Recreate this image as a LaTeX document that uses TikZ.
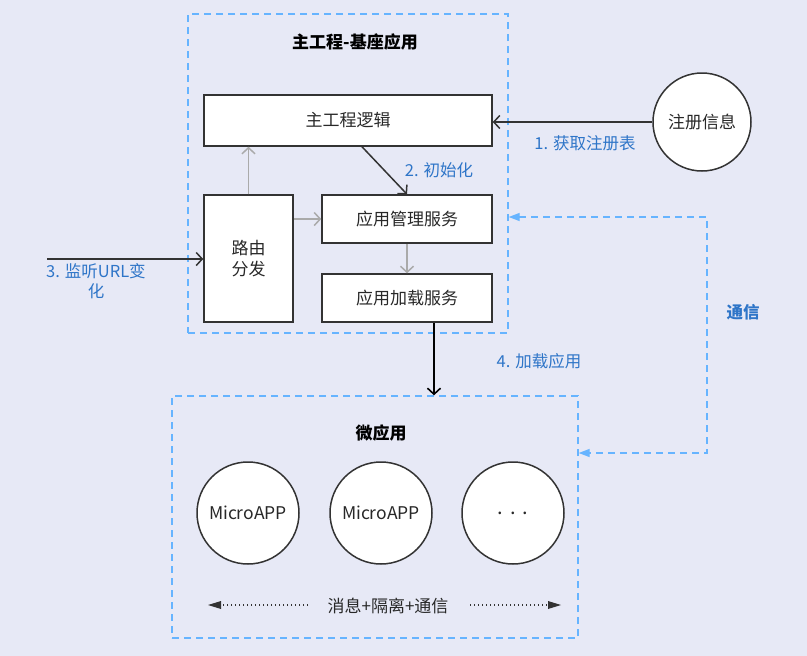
\documentclass[tikz,border=0pt]{standalone}
\usepackage{fontspec}
\setmainfont{Noto Sans CJK SC}
\usetikzlibrary{arrows.meta,calc}
\definecolor{bgcol}{RGB}{231,233,246}
\definecolor{dashblue}{RGB}{102,180,255}
\definecolor{lblblue}{RGB}{46,117,200}
\definecolor{edgecol}{RGB}{51,51,51}
\definecolor{graycol}{RGB}{170,170,170}
\definecolor{txtcol}{RGB}{40,40,40}
\tikzset{
  region/.style={draw=dashblue, line width=1.4pt, dash pattern=on 7pt off 5pt, minimum width=#1},
  procbox/.style={draw=edgecol, fill=white, line width=1.5pt, text=txtcol, font=\fontsize{17}{21}\selectfont},
  appcircle/.style={circle, draw=edgecol, fill=white, line width=1.5pt, text=txtcol, minimum size=102pt, inner sep=0pt, font=\fontsize{17.5}{21}\selectfont},
  steplabel/.style={text=lblblue, font=\fontsize{16.5}{20}\selectfont},
  titlelabel/.style={text=black, font=\fontsize{17}{20}\selectfont\bfseries},
  darkarrow/.style={draw=edgecol, line width=1.5pt, -{Straight Barb[length=6pt,width=13pt,line width=1.5pt]}},
  blackarrow/.style={draw=black, line width=1.6pt, -{Straight Barb[length=6pt,width=13pt,line width=1.6pt]}},
  grayarrow/.style={draw=graycol, line width=1.5pt, -{Straight Barb[length=6pt,width=13pt,line width=1.5pt]}},
  commline/.style={draw=dashblue, line width=1.4pt, dash pattern=on 7pt off 5pt, {Triangle[length=11pt,width=8pt]}-{Triangle[length=11pt,width=8pt]}},
  dotline/.style={draw=edgecol, line width=1.3pt, dash pattern=on 1.3pt off 2.7pt},
}
\begin{document}
\begin{tikzpicture}[x=1pt,y=-1pt]
\fill[bgcol] (0,0) rectangle (807,656);
\useasboundingbox (0,0) rectangle (807,656);

% regions
\node[region=320pt, minimum height=319pt] (main) at (348,173.5) {};
\node[region=406pt, minimum height=242pt] (micro) at (375,517) {};
\node[titlelabel] (maintitle) at (355,42) {主工程-基座应用};
\node[titlelabel] (microtitle) at (381,433) {微应用};

% boxes
\node[procbox, minimum width=288pt, minimum height=51pt] (logic) at (348,120.5) {主工程逻辑};
\node[procbox, minimum width=89pt, minimum height=127pt, align=center] (route) at (248.5,258.5) {路由\\分发};
\node[procbox, minimum width=170pt, minimum height=48pt] (mgr) at (407,219) {应用管理服务};
\node[procbox, minimum width=170pt, minimum height=48pt] (loader) at (407,298) {应用加载服务};

% circles
\node[appcircle, minimum size=98pt, font=\fontsize{17}{21}\selectfont] (reg) at (702,122) {注册信息};
\node[appcircle] (app1) at (248,513) {MicroAPP};
\node[appcircle] (app2) at (381,513) {MicroAPP};
\node[appcircle, font=\fontsize{20}{21}\selectfont] (app3) at (513,513) {.\,\,.\,\,.};

% gray internal arrows
\draw[grayarrow] (route.north) -- (route.north |- logic.south);
\draw[grayarrow] (route.east |- mgr.west) -- (mgr.west);
\draw[grayarrow] (mgr.south) -- (loader.north);

% step 1
\draw[darkarrow] (reg.west) -- (reg.west -| logic.east);
\node[steplabel] (l1) at (585,143) {1. 获取注册表};

% step 2
\coordinate (s2a) at ($(logic.south)+(14,0)$);
\coordinate (s2b) at (mgr.north);
\draw[darkarrow] (s2a) -- (s2b);
\node[steplabel] (l2) at (439,170) {2. 初始化};

% step 3
\coordinate (urlsrc) at (47,259);
\draw[darkarrow] (urlsrc) -- (urlsrc -| route.west);
\node[steplabel, align=center] (l3) at (96,281) {3. 监听URL变\\化};

% step 4
\coordinate (s4a) at ($(loader.south)+(27,0)$);
\draw[blackarrow] (s4a) -- (s4a |- micro.north);
\node[steplabel] (l4) at (539,361) {4. 加载应用};

% communication
\coordinate (c1) at (707,217);
\coordinate (c2) at (707,453);
\draw[commline] (c1 -| main.east) -- (c1) -- (c2) -- (c2 -| micro.east);
\node[text=lblblue, font=\fontsize{16.5}{20}\selectfont\bfseries] (comm) at (743,312) {通信};

% bottom message line
\node[text=txtcol, font=\fontsize{17}{21}\selectfont] (msg) at (388,606) {消息+隔离+通信};
\coordinate (d1a) at (208,605);
\coordinate (d1b) at (308,605);
\coordinate (d2a) at (470,605);
\coordinate (d2b) at (561,605);
\draw[dotline] (d1b) -- ($(d1a)+(12,0)$);
\fill[edgecol] (d1a) -- ($(d1a)+(13,-4)$) -- ($(d1a)+(13,4)$) -- cycle;
\draw[dotline] (d2a) -- ($(d2b)+(-12,0)$);
\fill[edgecol] (d2b) -- ($(d2b)+(-13,-4)$) -- ($(d2b)+(-13,4)$) -- cycle;
\end{tikzpicture}
\end{document}
